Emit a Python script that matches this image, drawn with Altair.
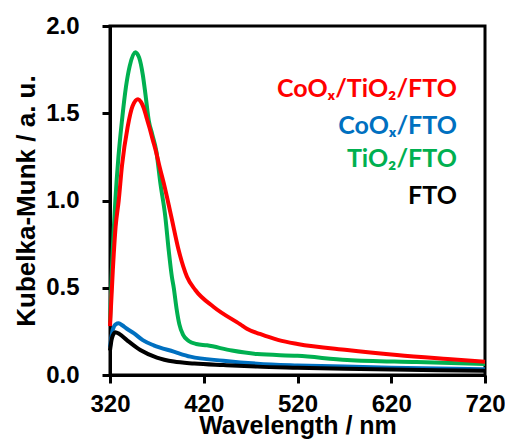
import altair as alt
import pandas as pd

# ---- data ----
series_names = ["CoOₓ/TiO₂/FTO", "CoOₓ/FTO", "TiO₂/FTO", "FTO"]
series_colors = ["#FF0000", "#0070C0", "#00B050", "#000000"]

red_wl = [320, 323, 326, 329.3, 332.8, 338.8, 344, 349.9, 353, 356, 359, 362, 365.5, 369.1, 373,
          377.3, 385.4, 393.2, 402.1, 411, 430.6, 459, 466, 480, 500, 520, 573, 626, 680, 720]
red_km = [0.28, 0.6, 0.85, 1.0, 1.2, 1.42, 1.54, 1.58, 1.565, 1.53, 1.475, 1.42, 1.35, 1.28, 1.19,
          1.10, 0.907, 0.716, 0.563, 0.487, 0.39, 0.29, 0.265, 0.235, 0.2, 0.178, 0.143, 0.115,
          0.092, 0.076]

blue_wl = [320, 323, 326, 329.3, 333, 338, 345.3, 355, 366.6, 388, 405.7, 441, 477, 520, 570, 620, 670, 720]
blue_km = [0.16, 0.26, 0.29, 0.296, 0.285, 0.265, 0.24, 0.2, 0.17, 0.134, 0.105, 0.082, 0.065,
           0.055, 0.048, 0.042, 0.037, 0.033]

green_wl = [320, 322, 325.7, 329, 332.8, 337, 341, 347, 351, 355, 358, 361.3, 365, 369.5, 373.7,
            379, 382.6, 386, 388, 391, 394, 398, 404, 412, 423.5, 450, 477, 520, 573, 647, 720]
green_km = [0.3, 0.6, 1.0, 1.25, 1.46, 1.65, 1.77, 1.85, 1.82, 1.72, 1.6, 1.46, 1.38, 1.28, 1.10,
            0.907, 0.716, 0.563, 0.5, 0.38, 0.29, 0.23, 0.195, 0.178, 0.17, 0.14, 0.12, 0.11, 0.086,
            0.074, 0.063]

black_wl = [320, 322, 325.7, 330, 338, 352.3, 370, 388, 410, 441, 477, 520, 570, 620, 670, 720]
black_km = [0.14, 0.21, 0.245, 0.235, 0.2, 0.143, 0.10, 0.077, 0.066, 0.057, 0.048, 0.042,
            0.036, 0.031, 0.027, 0.025]

x_ticks = [320, 420, 520, 620, 720]
y_ticks = [0.0, 0.5, 1.0, 1.5, 2.0]

label_wl = [690, 690, 690, 690]
label_km = [1.641, 1.429, 1.238, 1.026]

# ---- build tables ----
frames = []
for name, wl, km in zip(series_names, [red_wl, blue_wl, green_wl, black_wl],
                        [red_km, blue_km, green_km, black_km]):
    frames.append(pd.DataFrame({"wl": wl, "km": km, "series": name}))
lines_df = pd.concat(frames, ignore_index=True)
labels_df = pd.DataFrame({"wl": label_wl, "km": label_km, "series": series_names})

FONT = "Liberation Sans"

x_enc = alt.X("wl:Q",
              scale=alt.Scale(domain=[320, 720], nice=False, zero=False),
              axis=alt.Axis(values=x_ticks, title="Wavelength / nm", format="d",
                            labelPadding=9, titlePadding=-3, labelFlush=False,
                            labelOverlap=False, titleFontSize=25))
y_enc = alt.Y("km:Q",
              scale=alt.Scale(domain=[0, 2], nice=False),
              axis=alt.Axis(values=y_ticks, title="Kubelka-Munk / a. u.", format=".1f",
                            labelPadding=23, titlePadding=6, labelFlush=False,
                            labelOverlap=False))
color_enc = alt.Color("series:N",
                      scale=alt.Scale(domain=series_names, range=series_colors),
                      legend=None)

base = alt.Chart(lines_df).mark_line(strokeWidth=4, interpolate="monotone").encode(
    x=x_enc, y=y_enc, color=color_enc)

draw_order = [series_names[2], series_names[1], series_names[3], series_names[0]]
layers = [base.transform_filter(alt.datum.series == s) for s in draw_order]

text = alt.Chart(labels_df).mark_text(
    align="right", baseline="middle", font="Lato", fontWeight="bold", fontSize=25
).encode(x=alt.X("wl:Q"), y=alt.Y("km:Q"), text="series:N", color=color_enc)

chart = alt.layer(*layers, text).properties(
    width=375, height=349,
    autosize=alt.AutoSizeParams(type="none"),
    padding={"left": 102, "top": 18, "right": 20, "bottom": 64},
).configure_view(
    stroke="black", strokeWidth=3
).configure_axis(
    grid=False, domainColor="black", domainWidth=3, tickColor="black", tickWidth=3,
    tickSize=8, labelFont=FONT, labelFontWeight="bold", labelFontSize=24,
    labelColor="black", titleFont=FONT, titleFontWeight="bold", titleFontSize=26,
    titleColor="black"
)

chart.save("out.html", embed_options={"renderer": "svg", "actions": False})
